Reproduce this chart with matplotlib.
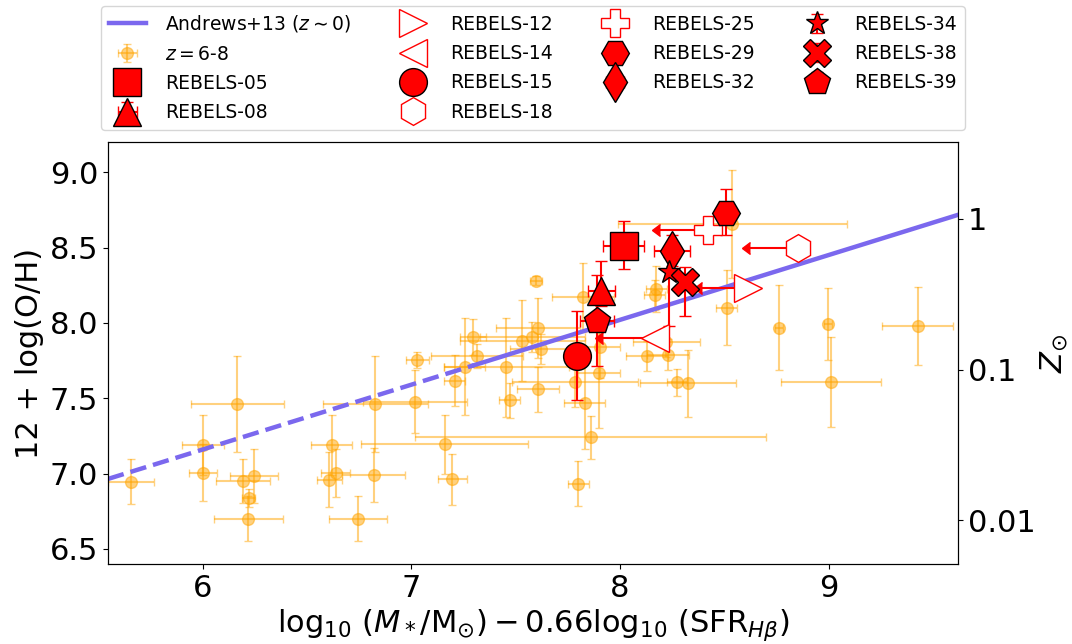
import matplotlib.pyplot as plt
import numpy as np
from matplotlib.ticker import NullLocator

# z=6-8 literature sample
lit_x = [5.655, 6.00, 6.00, 6.166, 6.193, 6.244, 6.22, 6.217, 6.617, 6.636, 6.605, 6.819, 6.744, 6.827,
         7.016, 7.029, 7.295, 7.314, 7.207, 7.255, 7.16, 7.196, 7.455, 7.471, 7.532, 7.58, 7.607, 7.623,
         7.607, 7.596, 7.822, 7.784, 7.83, 7.859, 7.80, 7.902, 7.899, 8.174, 8.166, 8.129, 8.23, 8.222,
         8.273, 8.326, 8.538, 8.512, 8.761, 8.996, 9.427, 9.012]
lit_y = [6.945, 7.19, 7.005, 7.46, 6.95, 6.985, 6.84, 6.70, 7.19, 7.005, 6.96, 6.99, 6.70, 7.46,
         7.476, 7.753, 7.908, 7.782, 7.616, 7.709, 7.195, 6.962, 7.705, 7.487, 7.881, 7.904, 7.964, 7.824,
         7.559, 8.28, 8.17, 7.605, 7.465, 7.24, 6.934, 7.837, 7.665, 8.225, 8.185, 7.78, 7.79, 7.875,
         7.607, 7.598, 8.657, 8.10, 7.968, 7.992, 7.979, 7.609]
lit_xerr = [0.11, 0.10, 0.067, 0.225, 0.13, 0.115, 0.03, 0.165, 0.10, 0.07, 0.06, 0.15, 0.14, 0.25,
            0.25, 0.056, 0.064, 0.22, 0.05, 0.10, 0.40, 0.068, 0.30, 0.05, 0.30, 0.25, 0.20, 0.15,
            0.10, 0.03, 0.15, 0.30, 0.10, 0.84, 0.05, 0.10, 0.10, 0.05, 0.05, 0.10, 0.10, 0.16,
            0.05, 0.23, 0.55, 0.05, 0.02, 0.02, 0.17, 0.24]
lit_yerr = [0.15, 0.20, 0.19, 0.32, 0.145, 0.18, 0.06, 0.15, 0.20, 0.16, 0.18, 0.18, 0.15, 0.32,
            0.21, 0.055, 0.12, 0.08, 0.17, 0.32, 0.195, 0.17, 0.33, 0.115, 0.27, 0.10, 0.20, 0.10,
            0.15, 0.03, 0.23, 0.16, 0.30, 0.14, 0.15, 0.20, 0.36, 0.15, 0.10, 0.10, 0.10, 0.10,
            0.09, 0.22, 0.36, 0.25, 0.28, 0.24, 0.26, 0.30]

# REBELS sources
reb_names = ['REBELS-05', 'REBELS-08', 'REBELS-12', 'REBELS-14', 'REBELS-15', 'REBELS-18',
             'REBELS-25', 'REBELS-29', 'REBELS-32', 'REBELS-34', 'REBELS-38', 'REBELS-39']
reb_x = [8.017, 7.91, 8.613, 8.166, 7.795, 8.852, 8.421, 8.509, 8.249, 8.235, 8.31, 7.889]
reb_y = [8.513, 8.21, 8.23, 7.898, 7.78, 8.495, 8.617, 8.732, 8.48, 8.34, 8.273, 8.015]
reb_xerr = [0.10, 0.064, 0.22, 0.25, 0.0, 0.23, 0.23, 0.0, 0.085, 0.0, 0.0, 0.08]
reb_yerr_lo = [0.155, 0.10, 0.0, 0.0, 0.29, 0.0, 0.0, 0.15, 0.10, 0.36, 0.23, 0.30]
reb_yerr_hi = [0.16, 0.20, 0.0, 0.0, 0.30, 0.0, 0.0, 0.155, 0.10, 0.10, 0.10, 0.30]
reb_uplim = [False, False, True, True, False, True, True, False, False, False, False, False]
reb_marker = ['s', '^', '>', '<', 'o', 'h', 'P', 'H', 'd', '*', 'X', 'p']
reb_ms = [20, 20, 20, 20, 20, 20, 20, 20, 20, 17, 20, 20]
reb_filled = [True, True, False, False, True, False, False, True, True, True, True, True]

# Andrews & Martini 2013 relation
am_slope, am_icpt = 0.43, 4.58
am_break = 7.3
xmin, xmax = 5.545, 9.62
ymin, ymax = 6.4, 9.2
zsun = 8.69

fig = plt.figure(figsize=(10.72, 6.44), dpi=100)
ax = fig.add_axes([0.1007, 0.1242, 0.7929, 0.6553])

lit = ax.errorbar(lit_x, lit_y, xerr=lit_xerr, yerr=lit_yerr, fmt='o', color='orange', alpha=0.5,
                  ms=8.5, capsize=3, elinewidth=1.5, zorder=1, label='$z=6$-$8$')

xd = np.array([xmin, am_break])
xs = np.array([am_break, xmax])
ax.plot(xd, am_slope * xd + am_icpt, '--', color='mediumslateblue', lw=3.2, zorder=2)
am, = ax.plot(xs, am_slope * xs + am_icpt, '-', color='mediumslateblue', lw=3.2, zorder=2,
              label=r'Andrews+13 ($z\sim0$)')

handles = [am, lit]
for i in range(len(reb_names)):
    if reb_filled[i]:
        style = dict(mfc='red', mec='black', mew=1.0)
    else:
        style = dict(mfc='white', mec='red', mew=1.0)
    if reb_uplim[i]:
        ax.errorbar(reb_x[i], reb_y[i], xerr=reb_xerr[i], xuplims=True, fmt='none',
                    color='red', ecolor='red', elinewidth=1.5, capsize=4, zorder=3)
        h, = ax.plot(reb_x[i], reb_y[i], ls='none', marker=reb_marker[i], ms=reb_ms[i],
                     zorder=3.1, label=reb_names[i], **style)
    else:
        h = ax.errorbar(reb_x[i], reb_y[i], xerr=reb_xerr[i] if reb_xerr[i] > 0 else None,
                        yerr=[[reb_yerr_lo[i]], [reb_yerr_hi[i]]], fmt=reb_marker[i],
                        ms=reb_ms[i], ecolor='red', elinewidth=1.5, capsize=4, zorder=3,
                        label=reb_names[i], **style)
    handles.append(h)

ax.set_xlim(xmin, xmax)
ax.set_ylim(ymin, ymax)
ax.set_xticks([6, 7, 8, 9])
ax.set_yticks([6.5, 7.0, 7.5, 8.0, 8.5, 9.0])
ax.tick_params(labelsize=22)
ax.set_xlabel(r'$\log_{10}\,(M_*/\mathrm{M}_{\odot}) - 0.66\log_{10}\,(\mathrm{SFR}_{H\beta})$', fontsize=22)
ax.set_ylabel('12 + log(O/H)', fontsize=22)

ax2 = ax.twinx()
ax2.set_yscale('log')
ax2.set_ylim(10 ** (ymin - zsun), 10 ** (ymax - zsun))
ax2.set_yticks([0.01, 0.1, 1])
ax2.set_yticklabels(['0.01', '0.1', '1'])
ax2.yaxis.set_minor_locator(NullLocator())
ax2.tick_params(labelsize=22)
ax2.set_ylabel(r'$Z_{\odot}$', fontsize=22, labelpad=2)

ax.legend(handles=handles, ncol=4, fontsize=13.5, loc='upper center', labelspacing=0.55,
          handletextpad=1.0, columnspacing=2.3, bbox_to_anchor=(0.5, 1.345))

fig.savefig('out.png', dpi=100)
